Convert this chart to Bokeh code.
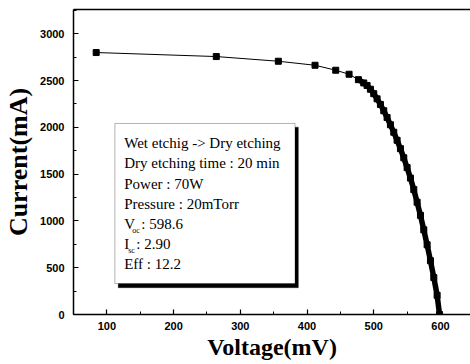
from bokeh.plotting import figure
from bokeh.models import (Range1d, SingleIntervalTicker, LinearAxis, Label,
                          BoxAnnotation, ColumnDataSource, FixedTicker)
from bokeh.embed import file_html
from bokeh.resources import INLINE

# ---- data ----
voltage = [84, 264, 357, 412, 443, 463, 477, 485, 490, 495, 500, 505, 510,
           515, 520, 525, 530, 535, 540, 545, 550, 555, 560, 565, 570, 575,
           580, 585, 590, 595, 598.6]
current = [2800, 2757, 2707, 2664, 2611, 2568, 2510, 2475, 2448, 2408, 2360,
           2305, 2245, 2178, 2105, 2028, 1948, 1862, 1772, 1675, 1570, 1458,
           1335, 1200, 1060, 905, 745, 575, 395, 205, 0]
dense_from = 6  # index where the measured points become very dense

x_ticks_interval = 100
y_ticks_interval = 500

info_lines = ["Wet etchig -> Dry etching", "Dry etching time : 20 min",
              "Power : 70W", "Pressure : 20mTorr"]
sub_lines = [("V", "oc", ": 598.6"), ("I", "sc", ": 2.90")]
last_line = "Eff : 12.2"

SERIF = "Liberation Serif"
SANS = "Liberation Sans"

p = figure(width=470, height=364, output_backend="svg", toolbar_location=None,
           x_range=Range1d(50, 645), y_range=Range1d(0, 3260),
           min_border_left=73, min_border_right=0, min_border_top=9,
           min_border_bottom=50)
p.background_fill_color = "white"
p.border_fill_color = "white"
p.outline_line_color = None
p.grid.visible = False

for ax, interval in ((p.xaxis[0], x_ticks_interval), (p.yaxis[0], y_ticks_interval)):
    ax.ticker = SingleIntervalTicker(interval=interval, num_minor_ticks=2)
    ax.major_tick_in = 5
    ax.major_tick_out = 0
    ax.minor_tick_in = 3
    ax.minor_tick_out = 0
    ax.axis_line_width = 1.5
    ax.major_tick_line_width = 1.2
    ax.minor_tick_line_width = 1.0
    ax.major_label_text_font = SANS
    ax.major_label_text_font_style = "bold"
    ax.major_label_text_font_size = "11px"
    ax.major_label_text_color = "black"
    ax.axis_label_text_font = SERIF
    ax.axis_label_text_font_style = "bold"
    ax.axis_label_text_color = "black"

p.xaxis.axis_label = "Voltage(mV)"
p.xaxis.axis_label_text_font_size = "24px"
p.xaxis.major_label_standoff = 7
p.xaxis.axis_label_standoff = 1
p.yaxis.axis_label = "Current(mA)"
p.yaxis.axis_label_text_font_size = "26px"
p.yaxis.major_label_standoff = 9
p.yaxis.axis_label_standoff = 4

top = LinearAxis(ticker=FixedTicker(ticks=[]), major_tick_in=0,
                 major_tick_out=0, minor_tick_in=0, minor_tick_out=0,
                 axis_line_width=1.5, major_label_standoff=0)
p.add_layout(top, "above")

src = ColumnDataSource(dict(v=voltage, i=current))
dense = ColumnDataSource(dict(v=voltage[dense_from:], i=current[dense_from:]))
p.line("v", "i", source=src, line_color="black", line_width=1)
p.line("v", "i", source=dense, line_color="black", line_width=5.5)
p.scatter("v", "i", source=src, marker="square", size=6,
          fill_color="black", line_color="black")

# ---- info box ----
box_l, box_r, box_t, box_b = 112, 382, 2042, 331
p.add_layout(BoxAnnotation(left=box_l + 5, right=box_r + 5, top=box_t - 40,
                           bottom=box_b - 45, fill_color="black", fill_alpha=1,
                           line_color="black"))
p.add_layout(BoxAnnotation(left=box_l, right=box_r, top=box_t, bottom=box_b,
                           fill_color="white", fill_alpha=1,
                           line_color="black", line_width=1))

tx = 126
ty0 = 1828
step = 214
fs = "15px"
row = 0
for t in info_lines:
    p.add_layout(Label(x=tx, y=ty0 - row * step, text=t, text_font=SERIF,
                       text_font_size=fs, text_baseline="middle",
                       text_color="black"))
    row += 1
for main, sub, rest in sub_lines:
    yy = ty0 - row * step
    p.add_layout(Label(x=tx, y=yy, text=main, text_font=SERIF,
                       text_font_size=fs, text_baseline="middle",
                       text_color="black"))
    p.add_layout(Label(x=tx, y=yy, x_offset=8 if main == "V" else 4,
                       y_offset=-7, text=sub, text_font=SERIF,
                       text_font_size="8px", text_baseline="middle",
                       text_color="black"))
    p.add_layout(Label(x=tx, y=yy, x_offset=17 if main == "V" else 12,
                       text=rest, text_font=SERIF, text_font_size=fs,
                       text_baseline="middle", text_color="black"))
    row += 1
p.add_layout(Label(x=tx, y=ty0 - row * step, text=last_line, text_font=SERIF,
                   text_font_size=fs, text_baseline="middle",
                   text_color="black"))

open("out.html", "w").write(file_html(p, INLINE))
